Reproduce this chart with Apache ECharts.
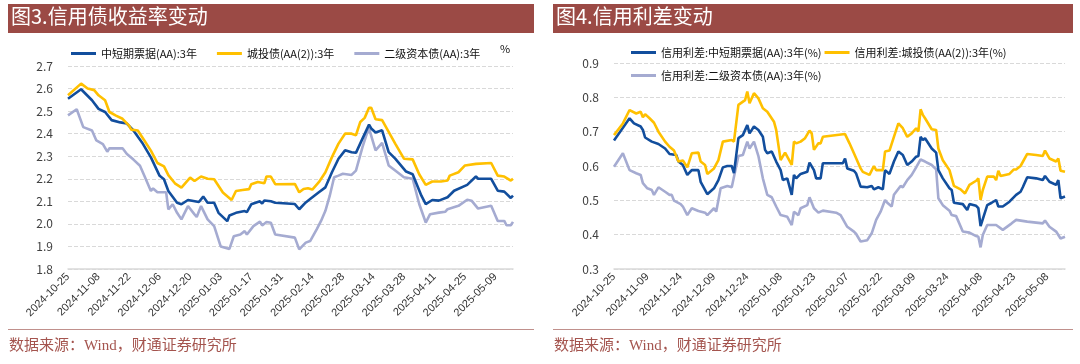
<!DOCTYPE html>
<html>
<head>
<meta charset="utf-8">
<script src="https://cdn.jsdelivr.net/npm/echarts@6/dist/echarts.min.js"></script>
<style>
  html, body { margin: 0; padding: 0; background: #fff; }
  #chart { width: 1080px; height: 364px; }
</style>
</head>
<body>
<div id="chart"></div>
<script>
// ---------- categories (calendar days) ----------
const leftStart = '2024-10-25';
const leftDayCount = 205;   // 2024-10-25 .. 2025-05-17
const rightStart = '2024-10-25';
const rightDayCount = 204;  // 2024-10-25 .. 2025-05-16

// ---------- tick labels ----------
const leftYTicks = { min: 1.8, max: 2.7, step: 0.1 };
const rightYTicks = { min: 0.3, max: 0.9, step: 0.1 };

// ---------- series names ----------
const leftNames = ['中短期票据(AA):3年', '城投债(AA(2)):3年', '二级资本债(AA):3年'];
const rightNames = ['信用利差:中短期票据(AA):3年(%)', '信用利差:城投债(AA(2)):3年(%)', '信用利差:二级资本债(AA):3年(%)'];

// ---------- values: [day index from start, value] ----------
const mtnYield = [[0,2.555],[6,2.597],[11,2.548],[14,2.51],[17,2.496],[20,2.46],[24,2.45],[27,2.445],[30,2.414],[34,2.36],[38,2.295],[42,2.213],[44,2.198],[46,2.146],[50,2.094],[52,2.087],[55,2.106],[60,2.097],[62,2.121],[64,2.094],[67,2.094],[69,2.049],[73,2.012],[74,2.037],[77,2.049],[81,2.057],[82,2.052],[84,2.087],[88,2.10],[89,2.09],[90,2.104],[93,2.10],[95,2.094],[104,2.088],[106,2.065],[109,2.095],[111,2.11],[115,2.14],[118,2.162],[121,2.229],[124,2.289],[127,2.326],[130,2.318],[132,2.315],[135,2.378],[138,2.44],[139,2.423],[141,2.405],[144,2.415],[147,2.318],[150,2.289],[155,2.232],[158,2.22],[162,2.125],[164,2.088],[167,2.106],[170,2.103],[174,2.118],[177,2.147],[183,2.173],[187,2.21],[188,2.2],[194,2.2],[197,2.147],[200,2.143],[203,2.115],[204,2.125]];
const lgfvYield = [[0,2.57],[6,2.622],[9,2.60],[12,2.593],[14,2.57],[17,2.548],[19,2.496],[22,2.48],[25,2.466],[28,2.436],[29,2.418],[32,2.414],[35,2.37],[38,2.325],[41,2.27],[44,2.255],[46,2.216],[49,2.18],[52,2.161],[56,2.205],[58,2.19],[61,2.21],[64,2.20],[67,2.198],[71,2.139],[75,2.106],[77,2.146],[80,2.15],[83,2.154],[84,2.176],[87,2.186],[90,2.18],[91,2.21],[93,2.21],[95,2.176],[104,2.177],[106,2.14],[108,2.155],[110,2.158],[112,2.152],[115,2.185],[118,2.229],[121,2.296],[124,2.356],[127,2.40],[130,2.40],[132,2.393],[134,2.452],[136,2.47],[138,2.515],[139,2.515],[141,2.464],[144,2.46],[147,2.408],[150,2.356],[154,2.289],[158,2.286],[161,2.22],[164,2.173],[167,2.188],[171,2.188],[174,2.192],[175,2.214],[179,2.229],[182,2.259],[187,2.266],[194,2.27],[197,2.214],[200,2.21],[203,2.192],[204,2.20]];
const tier2Yield = [[0,2.481],[4,2.508],[7,2.429],[11,2.414],[13,2.37],[16,2.354],[18,2.32],[19,2.335],[25,2.335],[27,2.31],[30,2.285],[33,2.258],[35,2.213],[38,2.146],[39,2.157],[41,2.14],[45,2.14],[46,2.064],[48,2.087],[50,2.049],[52,2.02],[55,2.079],[58,2.042],[59,2.031],[61,2.079],[64,2.02],[67,1.99],[70,1.90],[74,1.889],[76,1.945],[79,1.953],[81,1.968],[82,1.953],[85,1.99],[88,2.01],[89,1.993],[91,2.008],[93,2.005],[95,1.953],[104,1.939],[106,1.887],[109,1.917],[111,1.924],[114,1.976],[116,2.013],[118,2.058],[120,2.125],[122,2.207],[124,2.214],[126,2.222],[130,2.217],[132,2.236],[135,2.34],[137,2.40],[138,2.423],[141,2.326],[144,2.359],[147,2.259],[150,2.237],[154,2.207],[158,2.20],[161,2.088],[164,2.006],[166,2.043],[170,2.05],[173,2.054],[174,2.065],[179,2.08],[183,2.107],[185,2.103],[188,2.068],[194,2.08],[197,2.013],[200,2.013],[201,1.994],[203,1.994],[204,2.009]];

const mtnSpread = [[0,0.674],[7,0.739],[9,0.724],[12,0.715],[13,0.705],[14,0.683],[17,0.671],[20,0.664],[23,0.651],[25,0.635],[28,0.632],[29,0.613],[31,0.603],[33,0.574],[35,0.588],[38,0.588],[39,0.554],[42,0.518],[45,0.535],[47,0.559],[49,0.596],[51,0.60],[53,0.60],[54,0.579],[56,0.681],[58,0.69],[60,0.719],[61,0.695],[63,0.715],[65,0.705],[67,0.685],[68,0.647],[69,0.637],[71,0.642],[73,0.613],[75,0.588],[76,0.559],[78,0.564],[80,0.516],[81,0.574],[82,0.564],[84,0.577],[87,0.583],[88,0.61],[90,0.588],[91,0.564],[93,0.564],[94,0.608],[103,0.608],[104,0.622],[105,0.593],[108,0.586],[109,0.578],[111,0.54],[114,0.538],[116,0.542],[117,0.532],[119,0.538],[121,0.532],[122,0.588],[124,0.577],[126,0.613],[128,0.642],[130,0.632],[132,0.603],[134,0.613],[136,0.627],[137,0.629],[138,0.685],[139,0.676],[140,0.681],[143,0.651],[145,0.639],[146,0.588],[148,0.564],[151,0.535],[152,0.53],[153,0.493],[157,0.489],[159,0.472],[160,0.489],[163,0.484],[164,0.477],[165,0.425],[168,0.486],[170,0.493],[172,0.501],[173,0.482],[175,0.482],[178,0.496],[181,0.516],[183,0.525],[184,0.538],[186,0.567],[190,0.564],[193,0.559],[194,0.571],[196,0.554],[199,0.545],[200,0.559],[201,0.506],[203,0.511]];
const lgfvSpread = [[0,0.69],[4,0.724],[7,0.763],[10,0.753],[12,0.758],[13,0.742],[14,0.751],[16,0.739],[18,0.726],[20,0.70],[23,0.671],[25,0.656],[27,0.645],[29,0.613],[31,0.616],[33,0.596],[35,0.637],[38,0.639],[39,0.613],[41,0.603],[42,0.577],[45,0.593],[47,0.617],[49,0.671],[53,0.676],[54,0.671],[56,0.778],[59,0.792],[60,0.817],[61,0.783],[63,0.812],[65,0.797],[67,0.768],[69,0.758],[72,0.729],[73,0.705],[75,0.617],[77,0.639],[80,0.603],[81,0.671],[82,0.666],[84,0.671],[86,0.681],[88,0.703],[89,0.695],[90,0.647],[92,0.666],[93,0.666],[94,0.685],[104,0.693],[106,0.666],[108,0.637],[111,0.593],[112,0.583],[115,0.574],[117,0.60],[118,0.588],[121,0.588],[122,0.642],[124,0.645],[126,0.685],[128,0.724],[130,0.71],[132,0.685],[134,0.695],[136,0.71],[137,0.70],[138,0.765],[139,0.749],[140,0.739],[143,0.707],[145,0.705],[146,0.651],[148,0.617],[151,0.588],[153,0.542],[156,0.532],[158,0.52],[160,0.545],[163,0.557],[164,0.564],[165,0.501],[166,0.53],[168,0.569],[171,0.569],[172,0.559],[173,0.586],[174,0.571],[178,0.577],[180,0.59],[181,0.59],[183,0.60],[186,0.635],[190,0.632],[193,0.629],[194,0.645],[196,0.622],[199,0.613],[200,0.622],[201,0.586],[203,0.583]];
const tier2Spread = [[0,0.598],[4,0.637],[7,0.588],[10,0.579],[12,0.574],[13,0.55],[15,0.535],[17,0.53],[18,0.516],[20,0.538],[23,0.525],[25,0.516],[26,0.516],[27,0.499],[30,0.489],[31,0.482],[33,0.457],[35,0.477],[38,0.469],[41,0.464],[42,0.457],[45,0.477],[46,0.467],[48,0.535],[51,0.542],[53,0.538],[56,0.629],[58,0.632],[60,0.671],[61,0.651],[63,0.671],[65,0.629],[67,0.564],[69,0.516],[71,0.509],[73,0.482],[75,0.457],[78,0.452],[80,0.428],[81,0.467],[83,0.457],[84,0.477],[87,0.486],[88,0.509],[90,0.477],[92,0.464],[94,0.47],[100,0.464],[102,0.457],[105,0.423],[108,0.409],[109,0.402],[111,0.38],[114,0.384],[116,0.404],[118,0.443],[120,0.467],[122,0.501],[123,0.493],[125,0.482],[126,0.516],[129,0.542],[130,0.538],[132,0.559],[134,0.574],[136,0.596],[138,0.619],[140,0.613],[143,0.603],[145,0.59],[146,0.506],[148,0.486],[151,0.47],[152,0.457],[154,0.454],[157,0.409],[160,0.406],[163,0.396],[164,0.394],[165,0.363],[166,0.399],[168,0.428],[172,0.428],[175,0.414],[179,0.433],[181,0.443],[186,0.438],[193,0.433],[194,0.441],[196,0.423],[199,0.409],[201,0.389],[203,0.394]];

// ---------- helpers ----------
function buildDates(start, n) {
  const out = [];
  const d0 = new Date(start + 'T00:00:00Z').getTime();
  for (let i = 0; i < n; i++) {
    const d = new Date(d0 + i * 86400000);
    const m = String(d.getUTCMonth() + 1).padStart(2, '0');
    const day = String(d.getUTCDate()).padStart(2, '0');
    out.push(d.getUTCFullYear() + '-' + m + '-' + day);
  }
  return out;
}
const leftDates = buildDates(leftStart, leftDayCount);
const rightDates = buildDates(rightStart, rightDayCount);

const BLUE = '#124e9d', YELLOW = '#ffc000', GREY = '#a5abd1';
const BRICK = '#9b4a45';
const CJK = '"Noto Sans CJK SC", "Noto Sans", sans-serif';
const LAT = '"Liberation Sans", Arial, sans-serif';

function xAxisCfg(gi, dates, interval) {
  return {
    gridIndex: gi, type: 'category', data: dates, boundaryGap: false,
    axisLine: { lineStyle: { color: '#d9d9d9', width: 1.5 } },
    axisTick: { show: false },
    axisLabel: { interval: interval, rotate: 45, fontSize: 11, color: '#333', margin: 6, fontFamily: LAT },
    splitLine: { show: false }
  };
}
function yAxisCfg(gi, t) {
  return {
    gridIndex: gi, type: 'value', min: t.min, max: t.max, interval: t.step,
    axisLine: { show: false }, axisTick: { show: false },
    axisLabel: { formatter: v => v.toFixed(1), fontSize: 12, color: '#404040', margin: 15, fontFamily: CJK },
    splitLine: { lineStyle: { type: 'dashed', color: '#d9d9d9', width: 1 } }
  };
}
function lineSeries(name, data, color, axis, z) {
  return {
    name: name, type: 'line', data: data, xAxisIndex: axis, yAxisIndex: axis,
    symbol: 'none', showSymbol: false, z: z,
    lineStyle: { color: color, width: 2.6 }, itemStyle: { color: color },
    emphasis: { disabled: true }
  };
}
const legendText = { fontSize: 11, color: '#111', fontFamily: CJK };

const chart = echarts.init(document.getElementById('chart'), null, { renderer: 'canvas' });
chart.setOption({
  animation: false,
  backgroundColor: '#fff',
  grid: [
    { left: 68, right: 567, top: 66, bottom: 95 },
    { left: 614, right: 15, top: 63, bottom: 95 }
  ],
  xAxis: [xAxisCfg(0, leftDates, 13), xAxisCfg(1, rightDates, 14)],
  yAxis: [yAxisCfg(0, leftYTicks), yAxisCfg(1, rightYTicks)],
  legend: [
    { left: 66, top: 43, data: leftNames, icon: 'rect', itemWidth: 25, itemHeight: 3, itemGap: 20, textStyle: legendText },
    { left: 626, top: 42, data: rightNames.slice(0, 2), icon: 'rect', itemWidth: 25, itemHeight: 3, itemGap: 3, textStyle: legendText },
    { left: 626, top: 65, data: rightNames.slice(2), icon: 'rect', itemWidth: 25, itemHeight: 3, itemGap: 3, textStyle: legendText }
  ],
  series: [
    lineSeries(leftNames[2], tier2Yield, GREY, 0, 2),
    lineSeries(leftNames[0], mtnYield, BLUE, 0, 3),
    lineSeries(leftNames[1], lgfvYield, YELLOW, 0, 4),
    lineSeries(rightNames[2], tier2Spread, GREY, 1, 2),
    lineSeries(rightNames[0], mtnSpread, BLUE, 1, 3),
    lineSeries(rightNames[1], lgfvSpread, YELLOW, 1, 4)
  ],
  graphic: [
    { type: 'rect', left: 8, top: 4, shape: { width: 526, height: 29 }, style: { fill: BRICK } },
    { type: 'rect', left: 553, top: 4, shape: { width: 520, height: 29 }, style: { fill: BRICK } },
    { type: 'text', left: 11, top: 6, style: { text: '图3.信用债收益率变动', fill: '#fff', font: '20px ' + CJK } },
    { type: 'text', left: 556, top: 6, style: { text: '图4.信用利差变动', fill: '#fff', font: '20px ' + CJK } },
    { type: 'text', left: 500, top: 43, style: { text: '%', fill: '#111', font: '11px ' + CJK } },
    { type: 'line', shape: { x1: 8, y1: 329.5, x2: 534, y2: 329.5 }, style: { stroke: '#c0908c', lineWidth: 1 } },
    { type: 'line', shape: { x1: 553, y1: 329.5, x2: 1073, y2: 329.5 }, style: { stroke: '#c0908c', lineWidth: 1 } },
    { type: 'text', left: 9, top: 339, style: { text: '数据来源：Wind，财通证券研究所', fill: '#a4544e', font: '15px "Liberation Serif", ' + CJK } },
    { type: 'text', left: 554, top: 339, style: { text: '数据来源：Wind，财通证券研究所', fill: '#a4544e', font: '15px "Liberation Serif", ' + CJK } }
  ]
});
</script>
</body>
</html>
